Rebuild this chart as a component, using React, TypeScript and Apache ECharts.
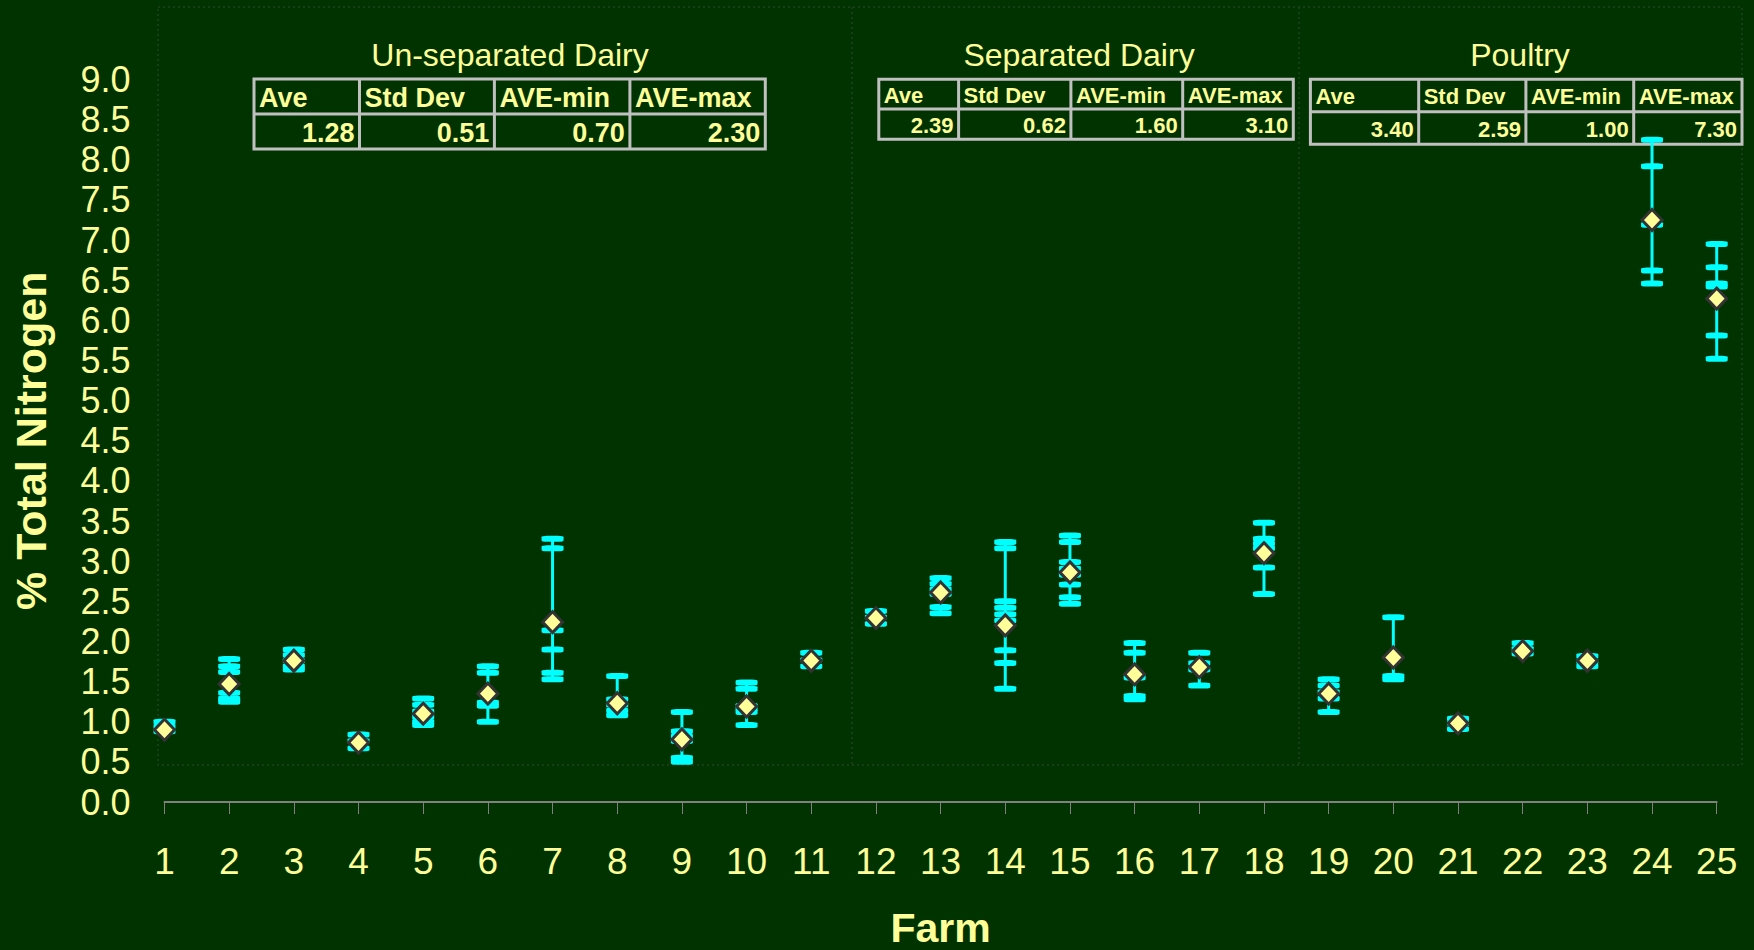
import React, { useEffect, useRef } from "react";
import * as echarts from "echarts";

// ---------- data ----------
const farms: number[] = [1, 2, 3, 4, 5, 6, 7, 8, 9, 10, 11, 12, 13, 14, 15, 16, 17, 18, 19, 20, 21, 22, 23, 24, 25];

const farmMeans: number[] = [
  0.9, 1.47, 1.76, 0.74, 1.1, 1.35, 2.24, 1.23, 0.78, 1.19, 1.76, 2.29, 2.61,
  2.2, 2.86, 1.59, 1.68, 3.1, 1.35, 1.8, 0.98, 1.88, 1.76, 7.25, 6.27,
];

const farmSamples: number[][] = [
  [1.0, 0.94, 0.88],
  [1.78, 1.69, 1.62, 1.36, 1.29, 1.25],
  [1.9, 1.83, 1.76, 1.69, 1.65],
  [0.84, 0.76, 0.67],
  [1.29, 1.21, 1.13, 1.06, 1.0, 0.96],
  [1.69, 1.61, 1.24, 1.2, 1.0],
  [3.28, 3.16, 2.14, 1.9, 1.61, 1.53],
  [1.57, 1.28, 1.21, 1.14, 1.08],
  [1.12, 0.88, 0.82, 0.76, 0.55, 0.5],
  [1.49, 1.41, 1.2, 1.16, 1.12, 0.96],
  [1.86, 1.77, 1.69],
  [2.38, 2.3, 2.22],
  [2.79, 2.72, 2.65, 2.59, 2.43, 2.35],
  [3.24, 3.16, 2.5, 2.42, 2.34, 2.26, 1.89, 1.73, 1.41],
  [3.32, 3.24, 2.99, 2.91, 2.83, 2.71, 2.55, 2.47],
  [1.98, 1.86, 1.55, 1.32, 1.28],
  [1.86, 1.73, 1.65, 1.45],
  [3.48, 3.28, 3.22, 3.16, 2.92, 2.59],
  [1.53, 1.45, 1.37, 1.29, 1.12],
  [2.3, 1.57, 1.53],
  [1.04, 0.98, 0.91],
  [1.98, 1.91, 1.85],
  [1.82, 1.75, 1.69],
  [8.25, 7.92, 7.19, 6.62, 6.46],
  [6.95, 6.66, 6.46, 6.42, 5.81, 5.52],
];

const groupTitles: string[] = ["Un-separated Dairy", "Separated Dairy", "Poultry"];
const tableHeaders: string[] = ["Ave", "Std Dev", "AVE-min", "AVE-max"];
const unseparatedStats: number[] = [1.28, 0.51, 0.7, 2.3];
const separatedStats: number[] = [2.39, 0.62, 1.6, 3.1];
const poultryStats: number[] = [3.4, 2.59, 1.0, 7.3];
const groupStats: number[][] = [unseparatedStats, separatedStats, poultryStats];

// ---------- styling / layout ----------
const BG = "#003300";
const TXT = "#FFFF99";
const CYAN = "#00FFFF";
const FONT = "'Liberation Sans', Arial, sans-serif";

const tableLayouts = [
  { cols: [254, 359.5, 494.4, 629.9, 765.3], top: 79, mid: 114, bottom: 149, font: 27, titleX: 510 },
  { cols: [878.8, 958.6, 1070.9, 1182.7, 1293.3], top: 79.3, mid: 109, bottom: 139.3, font: 22, titleX: 1079 },
  { cols: [1310.4, 1418.7, 1525.9, 1633.7, 1742], top: 79.3, mid: 111.7, bottom: 144.3, font: 22, titleX: 1520 },
];

function buildGraphics() {
  const els: any[] = [];
  // dotted plot border + group dividers
  els.push({
    type: "rect",
    shape: { x: 158, y: 7, width: 1742 - 158, height: 765 - 7 },
    style: { fill: "none", stroke: "#2f4a2f", lineWidth: 1, lineDash: [2, 3] },
    silent: true,
  });
  [852, 1299].forEach((x) =>
    els.push({
      type: "line",
      shape: { x1: x, y1: 7, x2: x, y2: 765 },
      style: { stroke: "#2f4a2f", lineWidth: 1, lineDash: [2, 3] },
      silent: true,
    })
  );
  groupTitles.forEach((title, g) => {
    const L = tableLayouts[g];
    els.push({
      type: "text",
      x: L.titleX,
      y: 55,
      style: { text: title, fill: TXT, fontSize: 32, fontFamily: FONT, align: "center", verticalAlign: "middle" },
      silent: true,
    });
    const c = L.cols;
    els.push({
      type: "rect",
      shape: { x: c[0], y: L.top, width: c[4] - c[0], height: L.bottom - L.top },
      style: { fill: "none", stroke: "#C0C0C0", lineWidth: 3 },
      silent: true,
    });
    els.push({
      type: "line",
      shape: { x1: c[0], y1: L.mid, x2: c[4], y2: L.mid },
      style: { stroke: "#C0C0C0", lineWidth: 3 },
      silent: true,
    });
    for (let i = 1; i < 4; i++) {
      els.push({
        type: "line",
        shape: { x1: c[i], y1: L.top, x2: c[i], y2: L.bottom },
        style: { stroke: "#C0C0C0", lineWidth: 3 },
        silent: true,
      });
    }
    tableHeaders.forEach((h, i) => {
      els.push({
        type: "text",
        x: c[i] + 5,
        y: (L.top + L.mid) / 2 + 1,
        style: { text: h, fill: TXT, fontSize: L.font, fontWeight: "bold", fontFamily: FONT, align: "left", verticalAlign: "middle" },
        silent: true,
      });
    });
    groupStats[g].forEach((v, i) => {
      els.push({
        type: "text",
        x: c[i + 1] - 5,
        y: (L.mid + L.bottom) / 2 + 1,
        style: { text: v.toFixed(2), fill: TXT, fontSize: L.font, fontWeight: "bold", fontFamily: FONT, align: "right", verticalAlign: "middle" },
        silent: true,
      });
    });
  });
  return els;
}

export default function App() {
  const ref = useRef<HTMLDivElement>(null);
  useEffect(() => {
    if (!ref.current) return;
    const chart = echarts.init(ref.current, undefined, { renderer: "svg" });

    const rangeData = farms.map((f, i) => [f, Math.min(...farmSamples[i]), Math.max(...farmSamples[i])]);
    const sampleData: number[][] = [];
    farms.forEach((f, i) => farmSamples[i].forEach((v) => sampleData.push([f, v])));
    const meanData = farms.map((f, i) => [f, farmMeans[i]]);

    chart.setOption({
      animation: false,
      backgroundColor: BG,
      textStyle: { fontFamily: FONT },
      grid: { left: 164.5, right: 37.3, top: 79.5, bottom: 148, containLabel: false, outerBoundsMode: "none" },
      xAxis: {
        type: "value",
        min: 1,
        max: 25,
        interval: 1,
        name: "Farm",
        nameLocation: "middle",
        nameGap: 105,
        nameTextStyle: { color: TXT, fontSize: 41, fontWeight: "bold", fontFamily: FONT },
        axisLine: { show: true, lineStyle: { color: "#808080", width: 2 } },
        axisTick: { show: true, length: 12, lineStyle: { color: "#808080", width: 1 } },
        axisLabel: { color: TXT, fontSize: 37, margin: 41, fontFamily: FONT },
        splitLine: { show: false },
      },
      yAxis: {
        type: "value",
        min: 0,
        max: 9,
        interval: 0.5,
        name: "% Total Nitrogen",
        nameLocation: "middle",
        nameGap: 112,
        nameRotate: 90,
        nameTextStyle: { color: TXT, fontSize: 43, fontWeight: "bold", fontFamily: FONT },
        axisLine: { show: false },
        axisTick: { show: false },
        axisLabel: { color: TXT, fontSize: 36, margin: 34, fontFamily: FONT, formatter: (v: number) => v.toFixed(1) },
        splitLine: { show: false },
      },
      graphic: buildGraphics(),
      series: [
        {
          type: "custom",
          name: "Range",
          data: rangeData,
          encode: { x: 0, y: [1, 2] },
          z: 2,
          renderItem: (params: any, api: any) => {
            const p1 = api.coord([api.value(0), api.value(1)]);
            const p2 = api.coord([api.value(0), api.value(2)]);
            return {
              type: "line",
              shape: { x1: p1[0], y1: p1[1], x2: p2[0], y2: p2[1] },
              style: { stroke: CYAN, lineWidth: 3 },
            };
          },
        },
        {
          type: "scatter",
          name: "Samples",
          data: sampleData,
          symbol: "roundRect",
          symbolSize: [22, 6],
          itemStyle: { color: CYAN, opacity: 1 },
          z: 3,
        },
        {
          type: "scatter",
          name: "Average",
          data: meanData,
          symbol: "diamond",
          symbolSize: [20, 21],
          itemStyle: { color: TXT, borderColor: "#333333", borderWidth: 3, opacity: 1 },
          z: 4,
        },
      ],
    });
    return () => chart.dispose();
  }, []);

  return (
    <div
      ref={ref}
      style={{ position: "fixed", left: 0, top: 0, width: 1754, height: 950, background: BG }}
    />
  );
}
